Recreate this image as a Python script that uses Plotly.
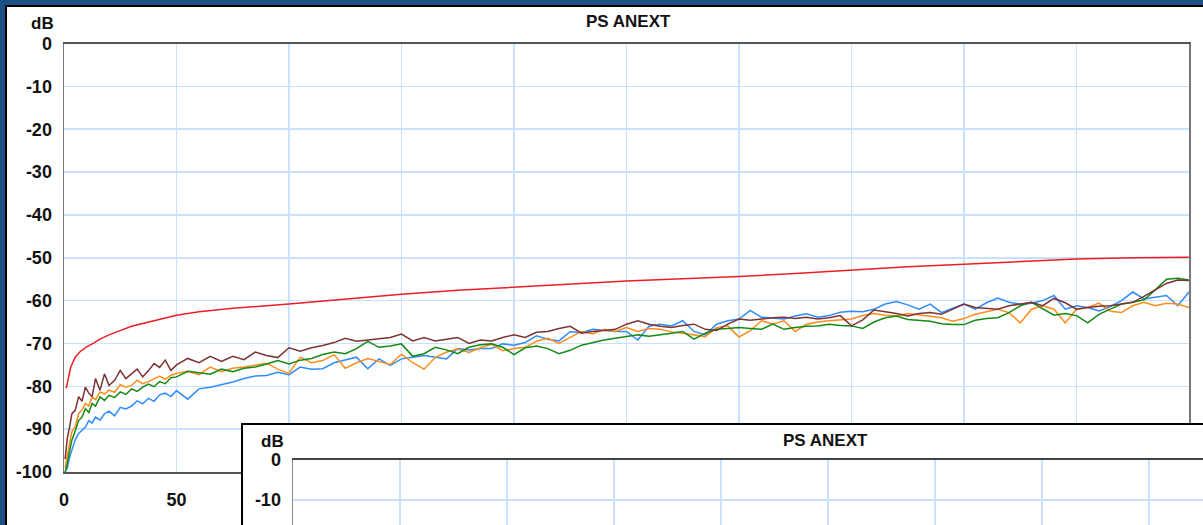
import plotly.graph_objects as go

# ---------------- data ----------------
freq = [0.5, 1.5, 2.5, 3.5, 5, 6.5, 8, 9.5, 11, 12.5, 14, 16, 18, 20, 22.5, 25, 27.5, 30,
        32.5, 35, 37.5, 40, 42.5, 45, 47.5,
        50, 55, 60, 65, 70, 75, 80, 85, 90, 95, 100, 105, 110, 115, 120, 125, 130, 135, 140, 145,
        150, 155, 160, 165, 170, 175, 180, 185, 190, 195, 200, 205, 210, 215, 220, 225, 230, 235,
        240, 245, 250, 255, 260, 265, 270, 275, 280, 285, 290, 295, 300, 305, 310, 315, 320, 325,
        330, 335, 340, 345, 350, 355, 360, 365, 370, 375, 380, 385, 390, 395, 400, 405, 410, 415,
        420, 425, 430, 435, 440, 445, 450, 455, 460, 465, 470, 475, 480, 485, 490, 495, 500]

pair_blue = [-100, -99, -96.5, -95, -92.5, -91, -90.2, -89.5, -88, -88.6, -87.2, -87.9, -86.4, -85.8,
             -86.9, -84.9, -85.3, -84.6, -83.4, -84.1, -82.8, -83.5, -82.0, -81.6, -82.4,
             -81.0, -83.0, -80.6, -80.2, -79.6, -79.0, -78.2, -77.6, -77.5, -76.7, -77.3, -75.5, -76.0,
             -75.9, -74.5, -73.9, -73.2, -75.9, -73.6, -75.1, -73.6, -73.2, -72.8, -73.2, -73.6, -71.2,
             -71.5, -71.2, -71.2, -70.1, -70.4, -69.8, -68.2, -69.0, -69.4, -67.2, -67.5, -66.7, -67.0,
             -67.2, -67.2, -69.2, -66.0, -65.5, -65.9, -64.7, -67.2, -68.0, -65.5, -64.7, -64.3, -62.3,
             -63.9, -64.1, -64.3, -63.6, -63.1, -63.9, -63.5, -62.7, -62.5, -62.6, -62.0, -60.8, -60.2,
             -61.0, -62.0, -60.8, -62.8, -61.8, -60.8, -62.0, -60.5, -59.4, -60.4, -60.8, -60.6, -60.0,
             -58.8, -62.0, -61.2, -61.6, -62.4, -61.4, -60.0, -58.0, -59.6, -59.2, -58.8, -61.2, -58.0]

pair_orange = [-99, -96, -93.5, -90.5, -89.5, -86.4, -85.5, -84.0, -84.6, -82.5, -83.1, -81.3, -81.8,
               -80.9, -81.4, -79.6, -80.2, -79.8, -78.6, -79.4, -78.9, -78.2, -77.6, -78.4, -77.4,
               -77.0, -76.5, -77.3, -75.5, -76.6, -75.8, -75.5, -75.0, -74.6, -76.0, -77.0, -73.2, -74.5,
               -74.0, -72.6, -75.8, -74.5, -73.5, -74.2, -74.9, -72.5, -74.5, -76.0, -73.3, -72.0, -71.3,
               -72.1, -71.0, -70.2, -71.7, -71.2, -70.9, -69.5, -68.8, -70.0, -68.5, -67.2, -67.8, -66.7,
               -67.2, -66.3, -67.2, -66.5, -66.7, -67.3, -67.6, -68.0, -68.4, -66.3, -65.9, -68.5, -67.0,
               -64.7, -65.5, -64.7, -67.2, -65.5, -65.0, -64.7, -64.5, -64.3, -63.5, -63.0, -63.4, -63.6,
               -63.0, -63.3, -63.6, -64.0, -64.8, -64.2, -63.2, -62.6, -62.0, -62.8, -65.2, -62.0, -61.2,
               -62.0, -65.2, -62.0, -61.6, -60.6, -62.5, -62.8, -61.2, -60.4, -61.2, -60.6, -60.8, -61.6]

pair_green = [-100, -98, -95, -92.6, -90.4, -88.0, -87.2, -85.2, -86.1, -84.0, -84.6, -82.5, -83.3,
              -82.1, -82.6, -81.3, -81.9, -80.6, -81.2, -80.2, -79.5, -80.1, -78.9, -79.4, -78.0,
              -77.8, -76.5, -76.8, -77.2, -76.0, -76.6, -75.8, -75.5, -74.8, -74.0, -74.8, -73.9, -73.5,
              -72.6, -72.0, -72.4, -71.2, -69.5, -70.9, -70.6, -70.1, -73.0, -72.4, -70.9, -71.5, -72.4,
              -70.9, -70.3, -70.1, -70.9, -72.6, -71.0, -70.6, -71.2, -72.4, -71.6, -70.4, -69.8, -69.2,
              -68.8, -68.4, -68.0, -68.3, -68.0, -67.6, -67.2, -69.0, -67.6, -66.7, -66.5, -66.3, -66.5,
              -66.7, -65.5, -66.7, -66.3, -66.0, -65.9, -65.5, -65.8, -65.9, -66.5, -65.0, -64.0, -63.6,
              -64.4, -64.6, -64.8, -65.4, -65.6, -65.6, -64.6, -64.2, -64.0, -62.8, -61.2, -60.4, -62.0,
              -63.4, -63.0, -63.5, -65.2, -63.2, -62.0, -60.8, -60.4, -59.8, -57.5, -55.0, -54.8, -55.2]

pair_brown = [-97, -92, -89.5, -86.4, -85.6, -82.4, -83.5, -80.2, -81.6, -82.4, -78.2, -80.9, -77.1,
              -79.8, -78.6, -76.3, -78.2, -77.0, -76.0, -77.8, -76.4, -74.7, -75.6, -73.9, -76.3,
              -75.0, -73.5, -74.5, -73.0, -74.2, -73.0, -73.8, -72.0, -72.8, -73.3, -71.0, -71.8, -71.0,
              -70.5, -69.8, -68.8, -69.5, -69.2, -68.8, -68.6, -67.8, -69.4, -68.6, -69.4, -69.0, -68.6,
              -70.0, -69.2, -69.4, -68.6, -68.0, -68.6, -67.4, -67.2, -66.5, -66.0, -67.6, -67.2, -67.0,
              -66.7, -65.5, -64.7, -65.5, -66.0, -66.3, -65.8, -65.5, -66.7, -67.0, -65.5, -64.3, -64.6,
              -64.3, -64.0, -63.9, -64.2, -63.9, -64.3, -64.0, -63.5, -65.9, -64.5, -62.2, -62.6, -63.0,
              -63.6, -63.0, -62.8, -63.2, -62.0, -60.8, -61.6, -61.8, -62.0, -61.2, -60.8, -60.4, -61.2,
              -59.5, -60.5, -62.0, -61.6, -61.3, -61.2, -60.8, -60.4, -59.0, -57.5, -56.0, -55.2, -55.3]

limit_freq = [1, 2, 3, 5, 7, 10, 13, 16, 20, 25, 30, 40, 50, 60, 75, 100, 125, 150, 175, 200,
              225, 250, 275, 300, 325, 350, 375, 400, 425, 450, 475, 500]
limit_db = [-80.5, -77.5, -75.5, -73.2, -72.0, -70.8, -70.0, -69.0, -68.0, -67.0, -66.0, -64.7,
            -63.4, -62.6, -61.8, -60.8, -59.6, -58.5, -57.6, -56.9, -56.1, -55.4, -54.9, -54.4,
            -53.7, -52.9, -52.1, -51.5, -50.9, -50.3, -50.0, -49.9]

x_ticks = [0, 50, 100, 150, 200, 250, 300, 350, 400, 450, 500]
x_ticktext = ["0", "50", "", "", "", "", "", "", "", "", ""]   # others hidden behind the inset
y_ticks = [0, -10, -20, -30, -40, -50, -60, -70, -80, -90, -100]
y_ticktext = ["0", "-10", "-20", "-30", "-40", "-50", "-60", "-70", "-80", "-90", "-100"]

title_text = "PS ANEXT"
unit_text = "dB"

# ---------------- geometry helpers ----------------
W, H = 1203, 525
def px(x):
    return x / W
def py(y):
    return 1 - y / H

FONT = "Liberation Sans"
GRID = "#c9e1fb"
tickfont = dict(family=FONT, size=18, color="#111111", weight="bold")

series = [
    (pair_blue, "#2f8cff"),
    (pair_orange, "#ff8c1a"),
    (pair_green, "#138a13"),
    (pair_brown, "#7d3232"),
]

fig = go.Figure()
for axx, axy in [("x", "y"), ("x3", "y3")]:
    for vals, col in series:
        fig.add_trace(go.Scatter(x=freq, y=vals, mode="lines", xaxis=axx, yaxis=axy,
                                 line=dict(color=col, width=1.5), hoverinfo="skip",
                                 showlegend=False))
    fig.add_trace(go.Scatter(x=limit_freq, y=limit_db, mode="lines", xaxis=axx, yaxis=axy,
                             line=dict(color="#ee1c24", width=1.5), hoverinfo="skip",
                             showlegend=False))

# cover panel (inset frame) subplot
fig.add_trace(go.Scatter(x=[0.5], y=[0.5], mode="markers", xaxis="x2", yaxis="y2",
                         marker=dict(opacity=0), hoverinfo="skip", showlegend=False))

axis_common = dict(showgrid=True, gridcolor=GRID, gridwidth=1.5, zeroline=False,
                   ticks="", fixedrange=True, automargin=False)

fig.update_layout(
    template="none",
    width=W, height=H, autosize=False,
    margin=dict(l=0, r=0, t=0, b=0, pad=0, autoexpand=False),
    paper_bgcolor="white", plot_bgcolor="white",
    showlegend=False, hovermode=False,
    xaxis=dict(domain=[px(64), px(1189)], range=[0, 500], tickmode="array",
               tickvals=x_ticks, ticktext=x_ticktext, tickfont=tickfont,
               showline=True, linecolor="#555555", linewidth=2, mirror=True,
               anchor="y", ticklabelstandoff=10, **axis_common),
    yaxis=dict(domain=[py(472), py(43.5)], range=[-100, 0], tickmode="array",
               tickvals=y_ticks, ticktext=y_ticktext, tickfont=tickfont,
               showline=True, linecolor="#777777", linewidth=1.5, mirror=True,
               anchor="x", ticklabelstandoff=7, **axis_common),
    xaxis2=dict(domain=[px(243), 1], range=[0, 1], anchor="y2", side="top",
                showline=True, linecolor="black", linewidth=2.5, showgrid=False,
                zeroline=False, showticklabels=False, ticks="", fixedrange=True,
                automargin=False),
    yaxis2=dict(domain=[0, py(425)], range=[0, 1], anchor="x2", side="left",
                showline=True, linecolor="black", linewidth=2.5, showgrid=False,
                zeroline=False, showticklabels=False, ticks="", fixedrange=True,
                automargin=False),
    xaxis3=dict(domain=[px(293), 1], range=[0, (W - 293) / 107.0 * 50], tickmode="array",
                tickvals=x_ticks, showticklabels=False,
                showline=True, linecolor="#444444", linewidth=2, mirror=True,
                anchor="y3", **axis_common),
    yaxis3=dict(domain=[0, py(460)], range=[-16.25, 0], tickmode="array",
                tickvals=y_ticks, ticktext=y_ticktext, tickfont=tickfont,
                showline=True, linecolor="#888888", linewidth=1.5,
                anchor="x3", ticklabelstandoff=7, **axis_common),
)

annots = [
    (42, 23, unit_text), (628, 22, title_text),
    (272, 441, unit_text), (825, 440, title_text),
]
for x, y, t in annots:
    fig.add_annotation(x=px(x), y=py(y), xref="paper", yref="paper", text=t,
                       showarrow=False, xanchor="center", yanchor="middle",
                       font=dict(family=FONT, size=17, color="#111111", weight="bold"))

# window frame
BLUE = "#1b4f86"
frame = [
    (0, 0, W, 5, BLUE), (0, 5, W, 7, "black"),
    (0, 0, 5, H, BLUE), (5, 5, 7, H, "black"),
]
for x0, y0, x1, y1, c in frame:
    fig.add_shape(type="rect", xref="paper", yref="paper", x0=px(x0), x1=px(x1),
                  y0=py(y1), y1=py(y0), fillcolor=c, line=dict(width=0), layer="above")

fig.write_html("out.html", config={"displayModeBar": False, "staticPlot": True},
               post_script="document.body.style.margin='0';document.body.style.overflow='hidden';")
